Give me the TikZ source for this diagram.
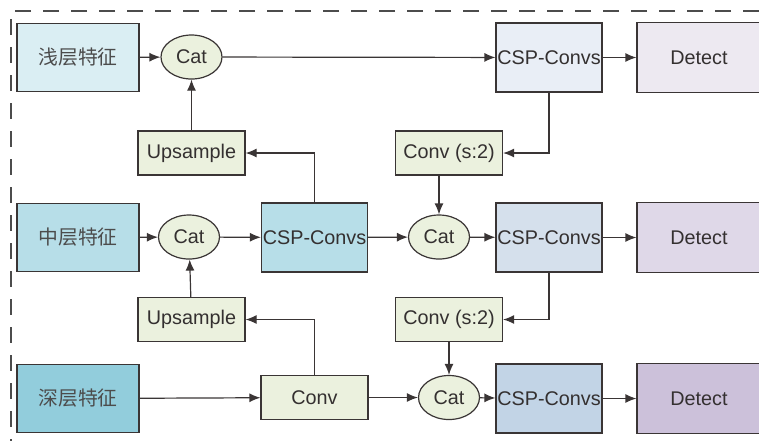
\documentclass[tikz,border=0pt]{standalone}
\usepackage{fontspec}
\setmainfont{Liberation Sans}
\newfontfamily\cjkfont{Noto Sans CJK SC}
\usetikzlibrary{arrows.meta,shapes.geometric}

\definecolor{featA}{HTML}{DAEEF3}
\definecolor{featB}{HTML}{B7DEE8}
\definecolor{featC}{HTML}{92CDDC}
\definecolor{opgreen}{HTML}{EBF1DE}
\definecolor{cspA}{HTML}{E9EEF6}
\definecolor{cspB}{HTML}{D5E0EC}
\definecolor{cspC}{HTML}{C2D4E6}
\definecolor{detA}{HTML}{EDE9F1}
\definecolor{detB}{HTML}{DFD8E8}
\definecolor{detC}{HTML}{CCC1DA}
\definecolor{edge}{HTML}{3A3535}

\begin{document}
\begin{tikzpicture}[x=0.5pt,y=-0.5pt,
  >={Latex[length=5.5pt,width=4.5pt]},
  every node/.style={font=\fontsize{9.9}{11}\selectfont, text=edge!90!black},
  box/.style={draw=edge, line width=0.6pt, rectangle, inner sep=0.5pt},
  feat/.style={box, minimum width=61pt, minimum height=34pt, font=\fontsize{9.9}{11}\cjkfont, text=black!70},
  catnode/.style={draw=edge, line width=0.6pt, ellipse, fill=opgreen, inner sep=0pt, minimum width=30.5pt, minimum height=22pt},
  opbox/.style={box, fill=opgreen, minimum width=53.5pt, minimum height=22pt},
  csp/.style={box, minimum width=53pt, minimum height=34.5pt},
  det/.style={box, minimum width=62pt, minimum height=35pt},
  link/.style={draw=edge, line width=0.6pt, ->}]
  \useasboundingbox (0,0) rectangle (759,441);

  % Dashed frame
  \draw[dashed, dash pattern=on 8 off 6, black!70, line width=0.6pt] (759,11) -| (11,441);

  % Feature inputs
  \node[feat, fill=featA] (fs) at (78,57.5) {浅层特征};
  \node[feat, fill=featB] (fm) at (78,237.5) {中层特征};
  \node[feat, fill=featC] (fd) at (78,398.5) {深层特征};

  % Top-down path
  \node[catnode] (catA) at (191.5,57) {Cat};
  \node[opbox] (upA) at (191.5,153) {Upsample};
  \node[catnode] (catB) at (189,237) {Cat};
  \node[csp, fill=featB] (cspM) at (314.5,237.5) {CSP-Convs};
  \node[opbox] (upB) at (191.5,319.5) {Upsample};
  \node[opbox] (convD) at (314.5,397.5) {Conv};

  % Bottom-up path
  \node[csp, fill=cspA] (cspT) at (549,57.5) {CSP-Convs};
  \node[opbox] (dsA) at (449,153) {Conv (s:2)};
  \node[catnode] (catC) at (439,237) {Cat};
  \node[csp, fill=cspB] (cspR) at (549,237.5) {CSP-Convs};
  \node[opbox] (dsB) at (449,319.5) {Conv (s:2)};
  \node[catnode] (catD) at (449,397.5) {Cat};
  \node[csp, fill=cspC] (cspL) at (549,398.5) {CSP-Convs};

  % Heads
  \node[det, fill=detA] (detT) at (699,57.5) {Detect};
  \node[det, fill=detB] (detM) at (699,237.5) {Detect};
  \node[det, fill=detC] (detL) at (699,398.5) {Detect};

  % Connections
  \draw[link] (fs) -- (catA);
  \draw[link] (catA) -- (cspT);
  \draw[link] (cspT) -- (detT);
  \draw[link] (cspM.north) |- (upA.east);
  \draw[link] (upA) -- (catA);
  \draw[link] (fm) -- (catB);
  \draw[link] (catB) -- (cspM);
  \draw[link] (cspM) -- (catC);
  \draw[link] (catC) -- (cspR);
  \draw[link] (cspR) -- (detM);
  \draw[link] (cspT.south) |- (dsA.east);
  \draw[link] (catC.north |- dsA.south) -- (catC.north);
  \draw[link] (convD.north) |- (upB.east);
  \draw[link] (upB) -- (catB);
  \draw[link] (fd) -- (convD);
  \draw[link] (convD) -- (catD);
  \draw[link] (catD) -- (cspL);
  \draw[link] (cspL) -- (detL);
  \draw[link] (cspR.south) |- (dsB.east);
  \draw[link] (dsB) -- (catD);

\end{tikzpicture}
\end{document}
